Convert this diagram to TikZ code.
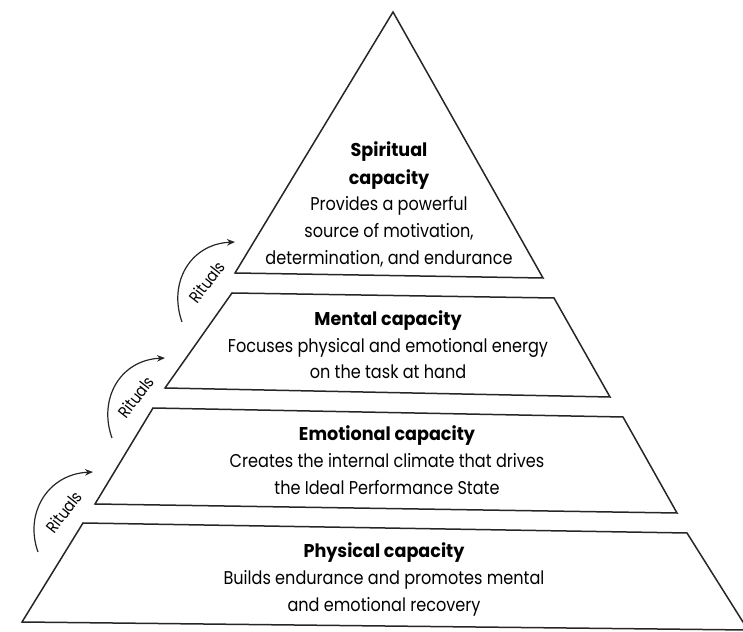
\documentclass[tikz,border=0pt]{standalone}
\usepackage{fontspec}
\setmainfont{Poppins}[FakeStretch=0.87]
\newfontfamily\headfont{Poppins}[FakeStretch=0.95]
\usetikzlibrary{arrows.meta}
\begin{document}
\begin{tikzpicture}[x=1pt,y=1pt,
  layer/.style={draw=black!85, line width=1.5pt, line join=miter},
  head/.style={anchor=base, inner sep=0pt, font=\headfont\fontsize{18.5}{22}\selectfont\bfseries},
  body/.style={anchor=base, inner sep=0pt, font=\fontsize{18.5}{22}\selectfont},
  ritual/.style={draw=black!85, line width=1.2pt, -{Stealth[length=8pt,width=6.5pt]}},
  ritlabel/.style={inner sep=0pt, font=\fontsize{16.5}{18}\selectfont, rotate=52}
]
\useasboundingbox (0,0) rectangle (743,631);
\begin{scope}
\clip (0,0) rectangle (743,631);
% layers
\draw[layer] (393,619) -- (543,353) -- (235,358) -- cycle;
\draw[layer] (232,338) -- (554,333) -- (610,234) -- (165,243) -- cycle;
\draw[layer] (153,223) -- (623,214) -- (677,118) -- (95,127) -- cycle;
\draw[layer] (83,108) -- (687,98) -- (748,1) -- (22,9) -- cycle;
\end{scope}
% spiritual
\node[head] (s1) at (389,474) {Spiritual};
\node[head] (s2) at (389,446) {capacity};
\node[body] (s3) at (389,420) {Provides a powerful};
\node[body] (s4) at (389,393) {source of motivation,};
\node[body] (s5) at (389,366) {determination, and endurance};
% mental
\node[head] (m1) at (388,305) {Mental capacity};
\node[body] (m2) at (388,278) {Focuses physical and emotional energy};
\node[body] (m3) at (388,252) {on the task at hand};
% emotional
\node[head] (e1) at (387,190) {Emotional capacity};
\node[body] (e2) at (387,163) {Creates the internal climate that drives};
\node[body] (e3) at (387,136) {the Ideal Performance State};
% physical
\node[head] (p1) at (384,74) {Physical capacity};
\node[body] (p2) at (384,47) {Builds endurance and promotes mental};
\node[body] (p3) at (384,20) {and emotional recovery};
% rituals arrows
\coordinate (r1s) at (38,79);   \coordinate (r1e) at (93,159);
\coordinate (r2s) at (112,193); \coordinate (r2e) at (165,273);
\coordinate (r3s) at (182,309); \coordinate (r3e) at (235,389);
\draw[ritual] (r1s) .. controls (24,118) and (48,157) .. (r1e);
\draw[ritual] (r2s) .. controls (98,232) and (120,271) .. (r2e);
\draw[ritual] (r3s) .. controls (168,348) and (190,387) .. (r3e);
\node[ritlabel] (t1) at (64,119) {Rituals};
\node[ritlabel] (t2) at (136,234) {Rituals};
\node[ritlabel] (t3) at (207,349) {Rituals};
\end{tikzpicture}
\end{document}
